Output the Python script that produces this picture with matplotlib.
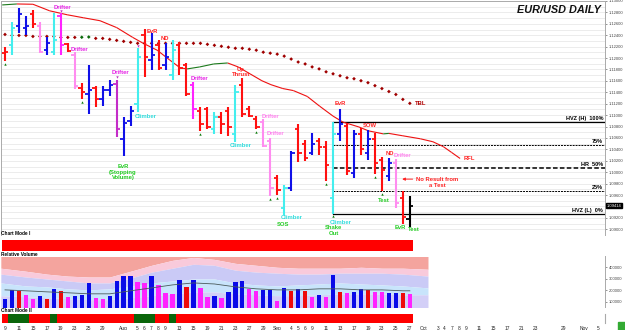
import matplotlib
matplotlib.use('Agg')
import matplotlib.pyplot as plt
import numpy as np
import pandas as pd
from matplotlib.collections import LineCollection

plt.rcParams['font.family'] = ['Liberation Sans', 'DejaVu Sans']

# ---- donnees (EUR/USD daily, 9 juil. -> 27 sept. 2019)
opens = [1.12086, 1.12224, 1.12569, 1.12534, 1.12776, 1.12569, 1.12138, 1.12103, 1.12741, 1.12241,
         1.12052, 1.11483, 1.11362, 1.11483, 1.11276, 1.11448, 1.11552, 1.10586, 1.10897, 1.11190,
         1.12397, 1.11966, 1.12224, 1.11879, 1.11707, 1.12224, 1.11879, 1.11534, 1.11069, 1.11103,
         1.10759, 1.10966, 1.11069, 1.10672, 1.11534, 1.11103, 1.10931, 1.10879, 1.10552, 1.09897,
         1.09379, 1.09724, 1.10759, 1.10500, 1.10328, 1.10552, 1.10448, 1.09552, 1.10672, 1.10810,
         1.09983, 1.10672, 1.10328, 1.10586, 1.10207, 1.09931, 1.10155, 1.09552, 1.09172]
highs = [1.12190, 1.12638, 1.12879, 1.12741, 1.12845, 1.12638, 1.12362, 1.12793, 1.12793, 1.12259,
         1.12103, 1.11569, 1.11879, 1.11517, 1.11517, 1.11621, 1.11621, 1.10966, 1.11155, 1.12172,
         1.12517, 1.12431, 1.12310, 1.12259, 1.12310, 1.12276, 1.11914, 1.11586, 1.11138, 1.11138,
         1.11052, 1.11052, 1.11138, 1.11534, 1.11655, 1.11155, 1.10983, 1.10931, 1.10603, 1.09948,
         1.09776, 1.10379, 1.10845, 1.10569, 1.10690, 1.10603, 1.10552, 1.10879, 1.11103, 1.10862,
         1.10741, 1.10776, 1.10741, 1.10690, 1.10259, 1.10241, 1.10224, 1.09672, 1.09586]
lows = [1.11948, 1.12052, 1.12448, 1.12397, 1.12534, 1.12086, 1.12052, 1.12052, 1.12052, 1.12103,
        1.11466, 1.11276, 1.11017, 1.11138, 1.11155, 1.11328, 1.10621, 1.10276, 1.10810, 1.11052,
        1.11672, 1.11793, 1.11793, 1.11793, 1.11621, 1.11707, 1.11328, 1.10931, 1.10724, 1.10759,
        1.10672, 1.10672, 1.10638, 1.10534, 1.10966, 1.10966, 1.10759, 1.10448, 1.09586, 1.09603,
        1.09259, 1.09672, 1.10172, 1.10190, 1.10293, 1.10310, 1.09845, 1.09276, 1.10552, 1.09948,
        1.09897, 1.10293, 1.10207, 1.09966, 1.09672, 1.09845, 1.09379, 1.09086, 1.09034]
closes = [1.12103, 1.12534, 1.12776, 1.12569, 1.12603, 1.12103, 1.12259, 1.12310, 1.12224, 1.12121,
          1.11517, 1.11397, 1.11448, 1.11276, 1.11448, 1.11534, 1.10759, 1.10862, 1.11069, 1.12017,
          1.12017, 1.12052, 1.11828, 1.12017, 1.12138, 1.11828, 1.11362, 1.11103, 1.10845, 1.10793,
          1.10966, 1.10845, 1.10793, 1.11414, 1.11017, 1.10983, 1.10793, 1.10466, 1.09724, 1.09690,
          1.09724, 1.10328, 1.10328, 1.10241, 1.10500, 1.10448, 1.10121, 1.10672, 1.10845, 1.10017,
          1.10672, 1.10414, 1.10586, 1.10155, 1.10034, 1.10155, 1.09466, 1.09207, 1.09414]
bar_cols = list("rcbbrpbcmr" "prbrbbvbbc" "rbrbcrrmrr" "crrcrrrppr" "cbrrbrrcbr" "brbrrbprk")

volumes = [127000, 203000, 195000, 161000, 127000, 153000, 127000, 212000, 195000, 144000,
           153000, 161000, 263000, 136000, 127000, 153000, 280000, 322000, 322000, 271000,
           263000, 322000, 246000, 178000, 169000, 288000, 229000, 288000, 220000, 144000,
           153000, 136000, 186000, 271000, 280000, 212000, 195000, 203000, 203000, 110000,
           220000, 195000, 212000, 195000, 144000, 161000, 144000, 331000, 186000, 178000,
           186000, 212000, 203000, 186000, 186000, 178000, 178000, 178000, 169000]
vol_cols = list("bbrmmbrbrm" "bbbmmbbbbm" "mbmmmbrbmm" "bmbbbmmbbm" "brbrmbmbrm" "bbrmmbbrm")

# bandes de volume relatif (en milliers)
band_x = [-0.6, 3, 6, 9, 12, 15, 18, 21, 24, 27, 30, 33, 36, 39, 42, 45, 48, 51, 54, 57, 60.6]
salmon_lo = [390, 364, 339, 322, 314, 314, 364, 415, 458, 483, 466, 432, 415, 398, 390, 390, 390, 398, 390, 390, 381]
pink_lo = [339, 314, 297, 280, 263, 263, 305, 356, 390, 424, 415, 373, 356, 347, 339, 339, 347, 347, 347, 339, 322]
lav_lo = [263, 237, 229, 212, 203, 212, 237, 263, 280, 297, 297, 263, 246, 237, 246, 254, 263, 254, 246, 237, 220]
blue_lo = [153, 144, 136, 127, 119, 119, 136, 153, 169, 186, 186, 169, 161, 153, 153, 161, 169, 169, 169, 161, 161]
avg_x = [0, 3, 6, 9, 12, 15, 18, 21, 24, 27, 30, 33, 36, 39, 42, 45, 48, 51, 54, 57, 58]
vol_avg = [203, 195, 186, 178, 169, 169, 195, 220, 246, 263, 254, 229, 212, 203, 203, 212, 212, 203, 203, 195, 195]

# chart mode II : 1 = vert
mode2 = [0, 1, 1, 1, 0, 0, 0, 1, 0, 0, 0, 0, 0, 0, 0, 0, 0, 0, 0, 1,
         1, 1, 0, 0, 1] + [0] * 34

# ligne RFL
rfl_x = [-0.4, 1.7, 4.0, 6.4, 8.9, 11.2, 13.6, 16.0, 18.3, 19.8, 21.8, 23.6, 25.1, 26.1, 27.9, 29.9,
         31.9, 33.4, 35.1, 36.8, 38.1, 39.8, 41.3, 43.3, 45.1, 47.0, 48.4, 50.7, 52.1, 54.2, 55.0,
         57.0, 59.5, 61.3, 62.8, 64.0, 65.2]
rfl = [1.12931, 1.12948, 1.12943, 1.12828, 1.12759, 1.12707, 1.12655, 1.12534, 1.12362, 1.12259,
       1.12138, 1.11966, 1.11828, 1.11810, 1.11845, 1.11897, 1.11914, 1.11845, 1.11724, 1.11603,
       1.11534, 1.11466, 1.11431, 1.11328, 1.11155, 1.10983, 1.10879, 1.10793, 1.10724, 1.10672,
       1.10680, 1.10638, 1.10586, 1.10534, 1.10448, 1.10345, 1.10241]

# ligne pointillee TBL
tbl = [1.12414, 1.12397, 1.12397, 1.12397, 1.12379, 1.12379, 1.12379, 1.12379, 1.12362, 1.12362,
       1.12362, 1.12365, 1.12369, 1.12345, 1.12345, 1.12328, 1.12310, 1.12293, 1.12276, 1.12259,
       1.12259, 1.12259, 1.12259, 1.12259, 1.12259, 1.12259, 1.12259, 1.12259, 1.12259, 1.12241,
       1.12224, 1.12207, 1.12190, 1.12172, 1.12172, 1.12155, 1.12138, 1.12103, 1.12086, 1.12069,
       1.12034, 1.11983, 1.11931, 1.11897, 1.11845, 1.11810, 1.11759, 1.11724, 1.11690, 1.11655,
       1.11638, 1.11603, 1.11569, 1.11517, 1.11466, 1.11414, 1.11362, 1.11276, 1.11207]

up_marks = [0, 11, 28, 36, 38, 39, 46, 47, 53, 54]
down_marks = [8, 16, 19]

tick_dates = ['2019-07-09', '2019-07-11', '2019-07-15', '2019-07-17', '2019-07-19', '2019-07-23',
              '2019-07-25', '2019-07-29', '2019-08-01', '2019-08-05', '2019-08-06', '2019-08-07',
              '2019-08-08', '2019-08-09', '2019-08-13', '2019-08-15', '2019-08-19', '2019-08-21',
              '2019-08-23', '2019-08-27', '2019-08-29', '2019-09-02', '2019-09-04', '2019-09-05',
              '2019-09-06', '2019-09-09', '2019-09-11', '2019-09-13', '2019-09-17', '2019-09-19',
              '2019-09-23', '2019-09-25', '2019-09-27', '2019-10-01', '2019-10-03', '2019-10-04',
              '2019-10-07', '2019-10-08', '2019-10-09', '2019-10-11', '2019-10-15', '2019-10-17',
              '2019-10-21', '2019-10-23', '2019-10-29', '2019-11-01', '2019-11-05']

colmap = {'r': '#ff1010', 'b': '#1010e8', 'c': '#44eeee', 'p': '#ff8cf0',
          'm': '#ff22ff', 'v': '#c42cc8', 'k': '#000000'}
vcolmap = {'b': '#0a0ae8', 'r': '#ee0a0a', 'm': '#ff22ff'}

W, H = 625.0, 330.0
XL = (-0.573, 85.96)


def rect(top, bottom, left=1, right=605):
    return [left / W, 1 - bottom / H, (right - left) / W, (bottom - top) / H]


fig = plt.figure(figsize=(6.25, 3.3), dpi=100)
ax = fig.add_axes(rect(1, 235))
ax1 = fig.add_axes(rect(240, 251))
axv = fig.add_axes(rect(256.5, 307.5))
ax2 = fig.add_axes(rect(314, 323))

n = len(closes)
idx = np.arange(n)

# ---- panneau des prix
ax.set_xlim(*XL)
ax.set_ylim(1.13 - 235 / 5800, 1.13 - 1 / 5800)
yt = np.arange(1.09, 1.13001, 0.002)
ax.set_yticks(yt)
# l'etiquette 1.09400 est cachee par le prix courant
ax.set_yticklabels(['' if abs(v - closes[-1]) < 0.0008 else '%.5f' % v for v in yt])
ax.set_yticks(np.arange(1.089, 1.13001, 0.001), minor=True)
ax.yaxis.tick_right()
ax.tick_params(axis='y', which='major', labelsize=3, colors='#444444', length=1.5, width=0.4, pad=1.5)
ax.tick_params(axis='y', which='minor', length=0)
ax.set_xticks([])
ax.grid(axis='y', which='both', color='#e4e4e4', lw=0.5, zorder=0)
ax.spines['bottom'].set_visible(False)
for s in ['left', 'right', 'top']:
    ax.spines[s].set_color('#aaaaaa')
    ax.spines[s].set_linewidth(0.7)

# zone HVZ a partir de la barre Shake Out
zi = 47
hi, lo = highs[zi], lows[zi]
levels = [(1.0, '-', 0.9, 'HVZ (H)  100%'), (0.75, (0, (2, 1)), 0.7, '75%'),
          (0.5, (0, (3, 1.5)), 1.1, 'HR  50%'), (0.25, (0, (2, 1)), 0.7, '25%'),
          (0.0, '-', 0.9, 'HVZ (L)  0%')]
for f, ls, lw, txt in levels:
    lv = lo + f * (hi - lo)
    ax.plot([zi, XL[1]], [lv, lv], color='black', ls=ls, lw=lw, zorder=2)
    ax.annotate(txt, (85.7, lv), xytext=(0, 0.6), textcoords='offset points', ha='right',
                va='bottom', fontsize=4, fontweight='bold', color='black')

# RFL (vert si montant, rouge sinon)
pts = np.column_stack([rfl_x, rfl])
segs = [pts[k:k + 2] for k in range(len(pts) - 1)]
scol = ['#1c7a1c' if rfl[k + 1] > rfl[k] else '#ee1111' for k in range(len(pts) - 1)]
ax.add_collection(LineCollection(segs, colors=scol, linewidths=0.8, zorder=2))

# TBL
tcol = ['#a00000'] + ['#0a6a0a' if tbl[k] > tbl[k - 1] else '#a00000' for k in range(1, len(tbl))]
ax.scatter(idx[:len(tbl)], tbl, s=3.5, marker='D', c=tcol, lw=0, zorder=2)

# barres OHLC
for i in idx:
    c = colmap[bar_cols[i]]
    ax.vlines(i, lows[i], highs[i], color=c, lw=1.5, zorder=3)
    ax.hlines(opens[i], i - 0.48, i, color=c, lw=1.3, zorder=3)
    ax.hlines(closes[i], i, i + 0.48, color=c, lw=1.3, zorder=3)

ax.scatter(up_marks, [lows[i] - 0.0005 for i in up_marks], marker='^', s=3, c='#0a7a0a', lw=0, zorder=4)
ax.scatter(down_marks, [highs[i] + 0.0004 for i in down_marks], marker='v', s=3, c='#c030c0', lw=0, zorder=4)

# annotations
GREEN, RED, CYAN, MAG, PINK = '#22cc22', '#ff2222', '#33dddd', '#e522e5', '#ff80ee'
labels = [
    ('Drifter', 8.3, 1.12879, MAG), ('Drifter', 10.7, 1.12155, MAG), ('Drifter', 16.5, 1.11741, MAG),
    ('EvR\n(Stopping\nVolume)', 16.9, 1.10000, GREEN), ('Climber', 20.1, 1.10983, CYAN),
    ('EvR', 21.1, 1.12466, RED), ('ND', 22.9, 1.12345, RED), ('Drifter', 27.9, 1.11638, MAG),
    ('Up\nThrust', 33.8, 1.11758, RED), ('Climber', 33.8, 1.10466, CYAN),
    ('Drifter', 38.0, 1.10983, PINK), ('Drifter', 38.8, 1.10672, PINK),
    ('Climber', 41.1, 1.09207, CYAN), ('SOS', 39.8, 1.09086, GREEN),
    ('Climber', 48.1, 1.09121, CYAN), ('Shake\nOut', 47.1, 1.08974, GREEN),
    ('EvR', 48.0, 1.11207, RED), ('SOW', 52.3, 1.10810, RED), ('Test', 54.2, 1.09500, GREEN),
    ('ND', 55.2, 1.10328, RED), ('Drifter', 57.0, 1.10293, PINK), ('EvR', 56.7, 1.09034, GREEN),
    ('Test', 58.6, 1.09000, GREEN), ('No Result from\na Test', 61.9, 1.09819, RED),
    ('RFL', 66.6, 1.10241, RED), ('TBL', 59.5, 1.11207, '#b00000'),
]
for txt, x, y, c in labels:
    ax.text(x, y, txt, color=c, fontsize=4.2, fontweight='bold', ha='center', va='center',
            linespacing=1.15, clip_on=False, zorder=5)
ax.annotate('', xy=(56.5, 1.09879), xytext=(58.8, 1.09879),
            arrowprops=dict(arrowstyle='-|>', color='#ff2222', lw=0.7, mutation_scale=4))

fig.text(601 / W, 1 - 10 / H, 'EUR/USD DAILY', ha='right', va='center', fontsize=7.8,
         fontweight='bold', fontstyle='italic', color='#111111')

# prix courant
ax.annotate('%.5f' % closes[-1], (1, closes[-1]), xycoords=('axes fraction', 'data'),
            xytext=(1.5, 0), textcoords='offset points', ha='left', va='center', fontsize=3,
            color='white', bbox=dict(boxstyle='square,pad=0.15', fc='black', ec='black'),
            annotation_clip=False)

# ---- chart mode I
ax1.bar(idx, np.ones(n), width=1.0, color='#ff0000', align='center')
ax1.set_xlim(*XL)
ax1.set_ylim(0, 1)
ax1.axis('off')

# ---- volume relatif
axv.set_xlim(*XL)
axv.set_ylim(51000, 491000)
k = 1000
top = np.full(len(band_x), 491) * k
bot = np.full(len(band_x), 51) * k
axv.fill_between(band_x, np.array(salmon_lo) * k, top, color='#f4a49e', lw=0)
axv.fill_between(band_x, np.array(pink_lo) * k, np.array(salmon_lo) * k, color='#f9cadb', lw=0)
axv.fill_between(band_x, np.array(lav_lo) * k, np.array(pink_lo) * k, color='#cacaf6', lw=0)
axv.fill_between(band_x, np.array(blue_lo) * k, np.array(lav_lo) * k, color='#c8e4fb', lw=0)
axv.fill_between(band_x, bot, np.array(blue_lo) * k, color='#d3cff7', lw=0)
axv.bar(idx, volumes, width=0.62, color=[vcolmap[c] for c in vol_cols], bottom=0, zorder=3)
axv.plot(avg_x, np.array(vol_avg) * k, color='#4a5a5a', lw=0.6, zorder=4)
axv.yaxis.tick_right()
axv.set_yticks([100000, 200000, 300000, 400000])
axv.set_yticklabels(['100000', '200000', '300000', '400000'])
axv.tick_params(axis='y', labelsize=3, colors='#444444', length=1.5, width=0.4, pad=1.5)
axv.set_xticks([])
for s in ['left', 'top', 'bottom']:
    axv.spines[s].set_visible(False)
axv.spines['right'].set_color('#aaaaaa')
axv.spines['right'].set_linewidth(0.7)

# ---- chart mode II
ax2.bar(idx, np.ones(n), width=1.0, color=['#0b650b' if m else '#ff0000' for m in mode2])
ax2.set_xlim(*XL)
ax2.set_ylim(0, 1)
for s in ['left', 'top', 'bottom']:
    ax2.spines[s].set_visible(False)
ax2.spines['right'].set_color('#aaaaaa')
ax2.set_yticks([])

days = pd.bdate_range('2019-07-09', periods=95)
tpos, tlab = [], []
for d in tick_dates:
    dt = pd.Timestamp(d)
    pos = days.get_loc(dt)
    tpos.append(pos)
    first = pos > 0 and days[pos - 1].month != dt.month
    tlab.append(dt.strftime('%b') if first else str(dt.day))
ax2.set_xticks(tpos)
ax2.set_xticklabels(tlab)
ax2.tick_params(axis='x', labelsize=3.5, length=0, pad=2, colors='#222222')

for txt, y in [('Chart Mode I', 233.5), ('Relative Volume', 254), ('Chart Mode II', 311)]:
    fig.text(1 / W, 1 - y / H, txt, fontsize=3.4, fontweight='bold', va='center', ha='left')

fig.patches.append(plt.Rectangle((618 / W, 0), 7 / W, 8 / H, transform=fig.transFigure,
                                 color='#33aa33', zorder=5))

fig.savefig('out.png', dpi=100)
